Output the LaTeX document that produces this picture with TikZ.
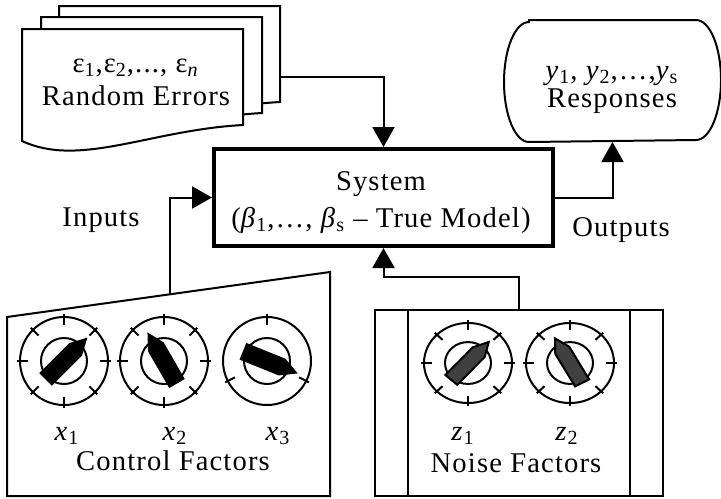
\documentclass[tikz,border=0pt]{standalone}
\usepackage{fontspec}
\setmainfont{Liberation Serif}[LetterSpace=4]
\usetikzlibrary{arrows.meta}
\definecolor{knobgray}{RGB}{64,64,64}

\newcommand{\knob}[5]{%
  \begin{scope}[shift={#1},yscale=#5]
    \draw (0,0) circle[radius=22pt];
    \draw (0,0) circle[radius=11.5pt];
    \foreach \tk in {#4} \draw (\tk:36) -- (\tk:47);
    \filldraw[fill=#3,rotate=#2] (-25,-8) -- (16,-8) -- (31,0) -- (16,8) -- (-25,8) -- cycle;
  \end{scope}}
\newcommand{\errsheet}[1]{%
  \filldraw[fill=white,shift={#1}] (22,-141) -- (22,-29) -- (243,-29) -- (243,-125)
    .. controls (150,-130) and (80,-168) .. (22,-141) -- cycle;}

\begin{document}
\begin{tikzpicture}[x=0.5pt,y=0.5pt,line width=1pt,font=\fontsize{14.3}{16.5}\selectfont,
  flow/.style={-{Triangle[width=11pt,length=10pt]}},
  lbl/.style={anchor=base,inner sep=0pt}]
\path[use as bounding box] (0,0) rectangle (721,-498);
\errsheet{(37,23)}
\errsheet{(19,12)}
\errsheet{(0,0)}
\node (errors) [align=center] at (136,-82) {ε\textsubscript{1},ε\textsubscript{2},..., ε\textsubscript{\textit{n}}\\Random Errors};
\coordinate (errout) at (280,-77);
\node (sys) [draw,line width=2pt,minimum width=169.5pt,minimum height=48.5pt] at (383.5,-197.5) {};
\node (systxt) [align=center] at (381,-202.5) {System\\[2pt](\textit{β}\textsubscript{1},…, \textit{β}\textsubscript{s} – True Model)};
\node (resp) [minimum width=107.5pt,minimum height=60pt] at (612.5,-81) {};
\draw ([xshift=12.5pt]resp.north west) -- ([xshift=-12.5pt]resp.north east)
  arc[start angle=90,end angle=-90,x radius=12.5pt,y radius=30pt]
  -- ([xshift=12.5pt]resp.south west)
  arc[start angle=270,end angle=90,x radius=12.5pt,y radius=30pt] -- cycle;
\node (resptxt) [align=center,font=\fontsize{14.3}{14}\selectfont] at (612,-90) {\textit{y}\textsubscript{1}, \textit{y}\textsubscript{2},…,\textit{y}\textsubscript{s}\\Responses};
\draw (7,-317) -- (330,-272) -- (330,-496) -- (7,-496) -- cycle;
\coordinate (ctrlin) at (170,-294.3);
\knob{(64,-361)}{45}{black}{0,45,...,315}{1}
\knob{(164,-361)}{120}{black}{0,45,...,315}{1}
\knob{(267,-361)}{-22}{black}{90,207,333}{1}
\node (x1) [lbl] at (67,-440) {\textit{x}\textsubscript{1}};
\node (x2) [lbl] at (175,-440) {\textit{x}\textsubscript{2}};
\node (x3) [lbl] at (278,-440) {\textit{x}\textsubscript{3}};
\node (ctrl) [lbl] at (173,-470) {Control Factors};
\node (noise) [draw,minimum width=144pt,minimum height=93pt] at (519,-403) {};
\draw ([xshift=17pt]noise.north west) -- ([xshift=17pt]noise.south west);
\draw ([xshift=-17pt]noise.north east) -- ([xshift=-17pt]noise.south east);
\knob{(468,-363)}{48}{knobgray}{0,45,...,315}{0.91}
\knob{(570,-363)}{119}{knobgray}{0,45,...,315}{0.91}
\node (z1) [lbl] at (463,-440) {\textit{z}\textsubscript{1}};
\node (z2) [lbl] at (567,-440) {\textit{z}\textsubscript{2}};
\node (noiselbl) [lbl] at (516,-472) {Noise Factors};
\draw[flow] (errout) -| (sys.north);
\draw[flow] (ctrlin) |- (sys.west);
\draw[flow] (sys.east) -| (resp.south);
\draw[flow] (noise.north) -- ++(0,32) -| (sys.south);
\node (inlab) [lbl] at (101,-226) {Inputs};
\node (outlab) [lbl] at (621,-236) {Outputs};
\end{tikzpicture}
\end{document}
